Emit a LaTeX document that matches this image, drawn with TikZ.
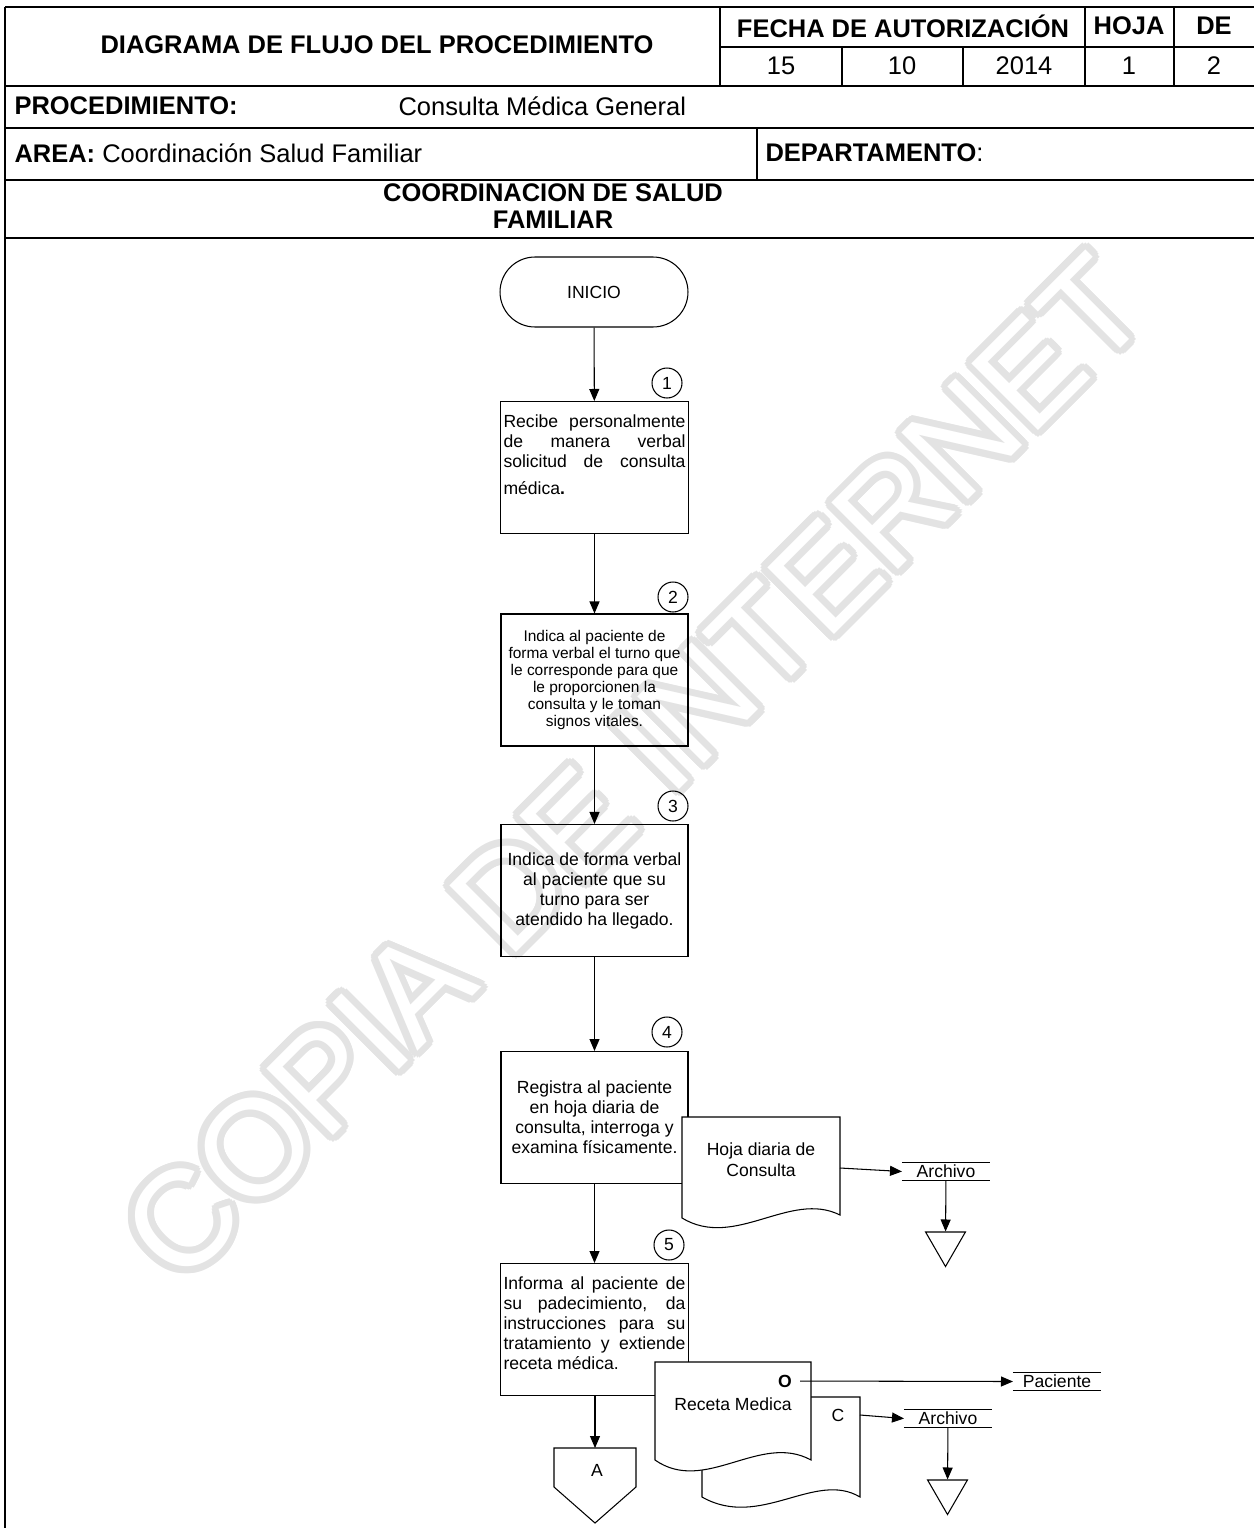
\documentclass[tikz,border=0pt]{standalone}
\usepackage{fontspec}
\setmainfont{Liberation Sans}
\usetikzlibrary{arrows.meta,shapes.geometric}

\tikzset{
  flecha/.style={-{Triangle[length=0.24cm,width=0.2cm]}},
  marco/.style={line width=1.2pt},
  marcaagua/.style={rotate=45, font=\fontsize{78}{78}\selectfont},
  cab/.style={font=\fontsize{14.5}{16.5}\selectfont\bfseries, inner sep=0pt},
  cabn/.style={font=\fontsize{14.5}{16.5}\selectfont, inner sep=0pt},
  caja/.style={draw, minimum width=3.74cm, minimum height=2.64cm, inner sep=0.06cm,
    font=\fontsize{10}{11.4}\selectfont, align=center},
  numero/.style={draw, circle, minimum size=0.6cm, inner sep=0pt, font=\fontsize{10}{12}\selectfont},
  destino/.style={minimum width=1.74cm, minimum height=0.34cm, inner sep=0pt, font=\fontsize{10}{12}\selectfont},
  archivo/.style={draw, regular polygon, regular polygon sides=3, shape border rotate=180,
    minimum size=0.92cm, inner sep=0pt},
  doc/.style={draw, fill=white},
  txt/.style={font=\fontsize{10}{12}\selectfont, align=center, inner sep=1pt}
}

\begin{document}
\begin{tikzpicture}[x=0.02cm, y=-0.02cm, line width=0.6pt]
\useasboundingbox (0,0) rectangle (1254,1528);

\foreach \a in {0,22.5,...,337.5}
  \node[marcaagua, text=gray!22, xshift={0.14cm*cos(\a)}, yshift={0.14cm*sin(\a)}] (marca\a) at (634,768) {COPIA DE INTERNET};
\node[marcaagua, text=white] (marca) at (634,768) {COPIA DE INTERNET};

% encabezado
\draw[marco] (5,7) -- (1254,7);
\draw[marco] (5,7) -- (5,1528);
\draw[marco] (720,47) -- (1254,47);
\draw[marco] (5,86) -- (1254,86);
\draw[marco] (5,128) -- (1254,128);
\draw[marco] (5,180) -- (1254,180);
\draw[marco] (5,238) -- (1254,238);
\draw[marco] (720,7) -- (720,86);
\draw[marco] (842,47) -- (842,86);
\draw[marco] (963,47) -- (963,86);
\draw[marco] (1085,7) -- (1085,86);
\draw[marco] (1174,7) -- (1174,86);
\draw[marco] (757,128) -- (757,180);

\node[cab] (titulo) at (377,45) {DIAGRAMA DE FLUJO DEL PROCEDIMIENTO};
\node[cab] (fecha) at (903,26) {FECHA DE AUTORIZACIÓN};
\node[cab] (hoja) at (1129,26) {HOJA};
\node[cab] (de) at (1214,26) {DE};
\node[cabn] (dia) at (781,66) {15};
\node[cabn] (mes) at (902,66) {10};
\node[cabn] (anio) at (1024,66) {2014};
\node[cabn] (nhoja) at (1129,66) {1};
\node[cabn] (nde) at (1214,66) {2};
\node[cab, anchor=west] (proc) at (14,106) {PROCEDIMIENTO:};
\node[cabn, anchor=west] (procn) at (398,106) {Consulta Médica General};
\node[cabn, anchor=west] (area) at (14,153) {\textbf{AREA:} Coordinación Salud Familiar};
\node[cabn, anchor=west] (depto) at (765,153) {\textbf{DEPARTAMENTO}:};
\node[cab, align=center] (coord) at (553,206) {COORDINACION DE SALUD\\[-1pt]FAMILIAR};

% flujo
\node[draw, rectangle, rounded corners=0.7cm, minimum width=3.76cm, minimum height=1.4cm,
  font=\fontsize{10}{12}\selectfont] (inicio) at (594,292) {INICIO};

\node[caja] (p1) at (594.5,467.5) {\parbox[c][2.5cm][t]{3.64cm}{\vspace*{0.2cm}%
  \makebox[\linewidth][s]{Recibe personalmente}\\
  \makebox[\linewidth][s]{de manera verbal}\\
  \makebox[\linewidth][s]{solicitud de consulta}\\[0.14cm]
  médica\textbf{.}}};
\node[caja, font=\fontsize{8.8}{9.7}\selectfont] (p2) at (594.5,680) {Indica al paciente de\\forma verbal el turno que\\le corresponde para que\\le proporcionen la\\consulta y le toman\\signos vitales.};
\node[caja] (p3) at (594.5,890.5) {Indica de forma verbal\\al paciente que su\\turno para ser\\atendido ha llegado.};
\node[caja] (p4) at (594.5,1117.5) {Registra al paciente\\en hoja diaria de\\consulta, interroga y\\examina físicamente.};
\node[caja] (p5) at (594.5,1329.5) {\parbox[c][2.5cm][t]{3.64cm}{\vspace*{0.2cm}%
  \makebox[\linewidth][s]{Informa al paciente de}\\
  \makebox[\linewidth][s]{su padecimiento, da}\\
  \makebox[\linewidth][s]{instrucciones para su}\\
  \makebox[\linewidth][s]{tratamiento y extiende}\\
  receta médica.}};

\node[numero] (n1) at (667,383) {1};
\node[numero] (n2) at (673,597) {2};
\node[numero] (n3) at (673,806) {3};
\node[numero] (n4) at (667,1032) {4};
\node[numero] (n5) at (669,1245) {5};

\draw[flecha] (inicio) -- (p1);
\draw[flecha] (p1) -- (p2);
\draw[flecha] (p2) -- (p3);
\draw[flecha] (p3) -- (p4);
\draw[flecha] (p4) -- (p5);

% documentos
\draw[doc] (682,1117) -- (840,1117) -- (840,1215)
  .. controls (790,1190) and (735,1250) .. (682,1218) -- cycle;
\node[txt] (hojad) at (761,1160) {Hoja diaria de\\Consulta};
\coordinate (hojaE) at (840,1168);

\draw[doc] (702,1397) -- (860,1397) -- (860,1497)
  .. controls (815,1470) and (760,1530) .. (702,1497) -- cycle;
\draw[doc] (655,1362) -- (811,1362) -- (811,1460)
  .. controls (760,1432) and (705,1495) .. (655,1460) -- cycle;
\node[txt] (receta) at (733,1404) {Receta Medica};
\node[txt, font=\fontsize{10}{12}\selectfont\bfseries] (recO) at (785,1381) {O};
\node[txt] (recC) at (838,1415) {C};
\coordinate (recCE) at (860,1415);

\node[destino] (arch1) at (946,1171.5) {Archivo};
\node[destino] (pac) at (1057,1381.5) {Paciente};
\node[destino] (arch2) at (948,1418.5) {Archivo};
\foreach \n in {arch1,pac,arch2}
  \draw (\n.north west) -- (\n.north east) (\n.south west) -- (\n.south east);

\node[archivo] (fin1) at (945.5,1243.5) {};
\node[archivo] (fin2) at (947.5,1491.5) {};

\draw[flecha] (hojaE) -- (arch1.west);
\draw[flecha] (arch1) -- (fin1);
\draw[flecha, shorten <=0.12cm] (recO) -- (pac.west);
\draw[flecha] (recCE) -- (arch2.west);
\draw[flecha] (arch2) -- (fin2);

% conector fuera de pagina
\draw (554,1448) -- (636,1448) -- (636,1487) -- (595,1523) -- (554,1487) -- cycle;
\node[txt] (conA) at (597,1470) {A};
\coordinate (conAtop) at (595,1448);
\draw[flecha] (p5.south -| conAtop) -- (conAtop);
\end{tikzpicture}
\end{document}
